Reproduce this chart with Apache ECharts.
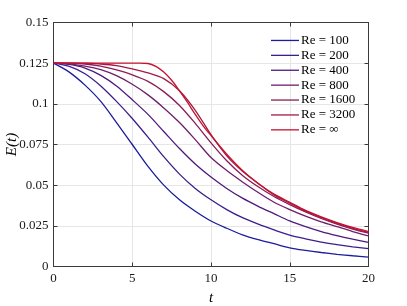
<!DOCTYPE html>
<html>
<head>
<meta charset="utf-8">
<script src="https://cdn.jsdelivr.net/npm/echarts@6/dist/echarts.min.js"></script>
<style>html,body{margin:0;padding:0;background:#fff}#c{width:407px;height:306px}</style>
</head>
<body>
<div id="c"></div>
<script>
// ---- data ----
const tGrid = [0,1,2,3,4,5,6,7,8,9,10,11,12,13,14,15,16,17,18,19,20];
const E100  = [.125,.1195,.1115,.1015,.0885,.075,.0615,.050,.041,.034,.028,.0235,.0195,.0165,.014,.0115,.0099,.0086,.0075,.0066,.0058];
const E200  = [.125,.123,.1185,.111,.1015,.091,.0795,.0675,.0568,.048,.041,.035,.030,.026,.0225,.0193,.017,.015,.0134,.0121,.011];
const E400  = [.125,.1242,.122,.1175,.111,.1025,.0935,.083,.0725,.063,.055,.048,.042,.037,.0325,.028,.0245,.0215,.019,.0168,.0148];
const E800  = [.125,.1246,.1232,.121,.1173,.112,.1055,.0975,.0885,.078,.067,.059,.052,.0455,.0395,.035,.031,.0275,.0245,.0215,.0188];
const E1600 = [.125,.125,.1245,.1232,.1208,.1178,.1138,.1075,.099,.088,.076,.065,.056,.049,.043,.038,.0335,.0295,.026,.023,.0205];
const E3200 = [.125,.125,.125,.1245,.1235,.1215,.119,.1155,.108,.096,.081,.068,.0585,.051,.044,.039,.034,.030,.0265,.0235,.021];
const tInf  = [0,1,2,3,4,5,5.5,6,6.5,7,7.5,8,8.5,9,9.5,10,11,12,13,14,15,16,17,18,19,20];
const EInf  = [.125,.125,.125,.125,.125,.125,.125,.1248,.123,.1195,.1145,.108,.101,.0935,.0865,.0805,.069,.059,.051,.0445,.0395,.0345,.0305,.027,.024,.0215];
const seriesNames = ['Re = 100','Re = 200','Re = 400','Re = 800','Re = 1600','Re = 3200','Re = \u221E'];
const seriesColors = ['#1c1c9c','#3b1f8c','#4e1a7c','#6e1f6c','#8a1d56','#a51a44','#c41230'];
const xTicks = [0,5,10,15,20];
const yTicks = [0,0.025,0.05,0.075,0.1,0.125,0.15];

const ys = [E100,E200,E400,E800,E1600,E3200,EInf];
const ts = [tGrid,tGrid,tGrid,tGrid,tGrid,tGrid,tInf];
const font = 'Liberation Serif';
const axisCol = '#3a3a3a';

const chart = echarts.init(document.getElementById('c'), null, {renderer:'canvas'});
const series = ys.map((arr,i)=>({
  name: seriesNames[i], type:'line', symbol:'none', smooth:0.3,
  data: arr.map((v,j)=>[ts[i][j], v]),
  lineStyle:{color:seriesColors[i], width:1.3},
  itemStyle:{color:seriesColors[i]},
  z: 2+i
}));

function fmtY(v){ return String(+v.toFixed(3)); }

chart.setOption({
  animation:false,
  backgroundColor:'#fff',
  grid:{left:53.5, right:38.5, top:22.5, bottom:39.5, containLabel:false, outerBoundsMode:'none'},
  legend:{
    orient:'vertical', left:271, top:33, padding:0,
    icon:'rect', itemWidth:28, itemHeight:1.3, itemGap:0,
    textStyle:{fontFamily:font, fontSize:13, lineHeight:14.9, color:'#000', padding:[0,0,0,-3]},
    data: seriesNames
  },
  xAxis:[{
    type:'value', min:0, max:20, interval:5,
    name:'t', nameLocation:'middle', nameGap:24, nameMoveOverlap:false,
    nameTextStyle:{fontFamily:font, fontStyle:'italic', fontSize:15, color:'#000'},
    axisLine:{show:true, lineStyle:{color:axisCol, width:1}},
    axisTick:{show:true, inside:true, length:4, lineStyle:{color:axisCol}},
    axisLabel:{fontFamily:font, fontSize:13, color:'#1a1a1a', margin:6},
    splitLine:{show:true, lineStyle:{color:'#e6e6e6', width:1}}
  },{
    type:'value', min:0, max:20, interval:5, position:'top',
    axisLine:{show:true, onZero:false, lineStyle:{color:axisCol, width:1}},
    axisTick:{show:true, inside:true, length:4, lineStyle:{color:axisCol}},
    axisLabel:{show:false}, splitLine:{show:false}
  }],
  yAxis:[{
    type:'value', min:0, max:0.15, interval:0.025,
    name:'E(t)', nameLocation:'middle', nameGap:34, nameRotate:90, nameMoveOverlap:false,
    nameTextStyle:{fontFamily:font, fontStyle:'italic', fontSize:15, color:'#000'},
    axisLine:{show:true, lineStyle:{color:axisCol, width:1}},
    axisTick:{show:true, inside:true, length:4, lineStyle:{color:axisCol}},
    axisLabel:{fontFamily:font, fontSize:13, color:'#1a1a1a', margin:5, formatter:fmtY},
    splitLine:{show:true, lineStyle:{color:'#e6e6e6', width:1}}
  },{
    type:'value', min:0, max:0.15, interval:0.025, position:'right',
    axisLine:{show:true, onZero:false, lineStyle:{color:axisCol, width:1}},
    axisTick:{show:true, inside:true, length:4, lineStyle:{color:axisCol}},
    axisLabel:{show:false}, splitLine:{show:false}
  }],
  series: series
});
</script>
</body>
</html>
